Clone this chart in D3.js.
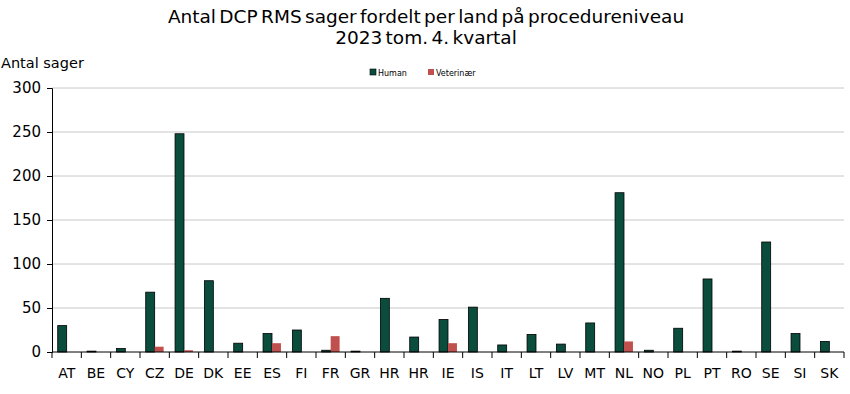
<!DOCTYPE html>
<html>
<head>
<meta charset="utf-8">
<script src="https://cdn.jsdelivr.net/npm/d3@7"></script>
<style>
    html, body { margin: 0; padding: 0; background: #fff; overflow: hidden; }
    svg { display: block; font-family: "DejaVu Sans", Verdana, sans-serif; }
</style>
</head>
<body>
<div id="chart"></div>
<script>
const countries = ["AT", "BE", "CY", "CZ", "DE", "DK", "EE", "ES", "FI", "FR", "GR", "HR", "HR", "IE", "IS", "IT", "LT", "LV", "MT", "NL", "NO", "PL", "PT", "RO", "SE", "SI", "SK"];
const human = [30, 1, 4, 68, 248, 81, 10, 21, 25, 2, 1, 61, 17, 37, 51, 8, 20, 9, 33, 181, 2, 27, 83, 1, 125, 21, 12];
const veterinaer = [0, 0, 0, 6, 2, 0, 0, 10, 0, 18, 0, 0, 0, 10, 0, 0, 0, 0, 0, 12, 0, 0, 0, 0, 0, 0, 0];
const seriesNames = ["Human", "Veterinær"];
const yTicks = [0, 50, 100, 150, 200, 250, 300];

const width = 850, height = 394;
const margin = {top: 88, right: 6, bottom: 42, left: 52};
const innerWidth = width - margin.left - margin.right;
const innerHeight = height - margin.top - margin.bottom;
const colors = {"Human": "#0b4d3c", "Veterinær": "#c0504d"};

const svg = d3.select("#chart").append("svg")
    .attr("width", width)
    .attr("height", height)
    .attr("viewBox", `0 0 ${width} ${height}`);

// title
const title = svg.append("g")
    .attr("font-size", 18.5)
    .attr("text-anchor", "middle")
    .attr("word-spacing", -2.5);
title.append("text")
    .attr("x", 426).attr("y", 23)
    .text("Antal DCP RMS sager fordelt per land på procedureniveau");
title.append("text")
    .attr("x", 426).attr("y", 44)
    .text("2023 tom. 4. kvartal");

svg.append("text")
    .attr("x", 1).attr("y", 68)
    .attr("font-size", 14.5)
    .text("Antal sager");

const chart = svg.append("g")
    .attr("transform", `translate(${margin.left}, ${margin.top})`);

const x = d3.scaleBand()
    .domain(d3.range(countries.length))
    .range([0, innerWidth]);

const xSub = d3.scaleBand()
    .domain(seriesNames)
    .range([x.bandwidth() * 0.195, x.bandwidth() * 0.805]);

const y = d3.scaleLinear()
    .domain([0, 300])
    .range([innerHeight, 0]);

// grid
chart.append("g")
    .selectAll("line")
    .data(yTicks.slice(1))
    .join("line")
    .attr("x1", 0).attr("x2", innerWidth)
    .attr("y1", d => y(d)).attr("y2", d => y(d))
    .attr("stroke", "#c8c8c8")
    .attr("stroke-width", 1);

const data = [];
countries.forEach((c, i) => {
    data.push({i: i, key: "Human", value: human[i]});
    data.push({i: i, key: "Veterinær", value: veterinaer[i]});
});

chart.append("g")
    .selectAll("rect")
    .data(data.filter(d => d.value > 0))
    .join("rect")
    .attr("x", d => x(d.i) + xSub(d.key))
    .attr("y", d => y(d.value))
    .attr("width", xSub.bandwidth())
    .attr("height", d => innerHeight - y(d.value))
    .attr("fill", d => colors[d.key])
    .attr("stroke", d => d.key === "Human" ? "#000" : "none")
    .attr("stroke-width", 0.8);

// axes
const yAxis = d3.axisLeft(y)
    .tickValues(yTicks)
    .tickSize(5)
    .tickPadding(6);
const yg = chart.append("g").call(yAxis)
    .attr("font-size", 15)
    .attr("font-family", null);
yg.selectAll("text").attr("fill", "#000");
yg.select(".domain").attr("stroke", "#000");
yg.selectAll(".tick line").attr("stroke", "#000");

const xg = chart.append("g")
    .attr("transform", `translate(0, ${innerHeight})`);
xg.append("line")
    .attr("x1", 0).attr("x2", innerWidth)
    .attr("stroke", "#000");
xg.selectAll(".sep")
    .data(d3.range(countries.length + 1))
    .join("line")
    .attr("class", "sep")
    .attr("x1", d => d < countries.length ? x(d) : innerWidth)
    .attr("x2", d => d < countries.length ? x(d) : innerWidth)
    .attr("y1", 0).attr("y2", 6)
    .attr("stroke", "#000");
xg.selectAll(".lab")
    .data(countries)
    .join("text")
    .attr("class", "lab")
    .attr("x", (d, i) => x(i) + x.bandwidth() / 2)
    .attr("y", 26)
    .attr("text-anchor", "middle")
    .attr("font-size", 14)
    .text(d => d);

// legend
const legend = svg.append("g");
const legendX = [370, 428];
seriesNames.forEach((s, i) => {
    legend.append("rect")
        .attr("x", legendX[i]).attr("y", 69)
        .attr("width", 6).attr("height", 6)
        .attr("fill", colors[s])
        .attr("stroke", s === "Human" ? "#000" : "none")
        .attr("stroke-width", 0.6);
    legend.append("text")
        .attr("x", legendX[i] + 8).attr("y", 75.5)
        .attr("font-size", 8)
        .text(s);
});
</script>
</body>
</html>
